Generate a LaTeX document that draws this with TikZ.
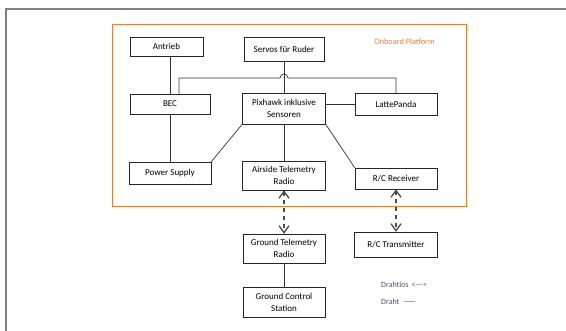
\documentclass[tikz,border=0pt]{standalone}
\usepackage{fontspec}
\setmainfont{Carlito}
\usepackage{xcolor}
\usetikzlibrary{arrows.meta}
\definecolor{platorange}{RGB}{237,125,49}
\definecolor{legendgray}{RGB}{68,84,106}

\begin{document}
\begin{tikzpicture}[x=1pt,y=-1pt]
  \tikzset{block/.style = {draw=black!85,minimum width=82pt,align=center,inner sep=1pt,font=\fontsize{9}{12}\selectfont}}
  \tikzset{wire/.style = {draw=black!80,line width=0.7pt}}
  \tikzset{wless/.style = {draw=black!70,line width=1.3pt,dash pattern=on 4pt off 4pt,{Straight Barb[length=7pt,width=10pt]}-{Straight Barb[length=7pt,width=10pt]}}}
  \tikzset{legend/.style = {anchor=west,text=legendgray,font=\fontsize{8}{9}\selectfont,inner sep=0pt}}
  \useasboundingbox (0,0) rectangle (566,331);

	% frame and platform
	\draw[gray,line width=1.5pt] (6,331) -- (6,9) -- (566,9);
	\draw[platorange,line width=0.8pt] (112,24) rectangle (466,206);
	\node[text=platorange,font=\fontsize{8.3}{10}\selectfont] (OP) at (404.5,42) {Onboard Platform};

	\node[block,minimum width=73pt,minimum height=19pt] (Antrieb) at (166.5,46.5) {Antrieb};
	\node[block,minimum width=80pt,minimum height=24pt] (Servos) at (284,49) {Servos für Ruder};
	
	\node[block,minimum width=80pt,minimum height=20pt] (BEC) at (170,104) {BEC};
	\node[block,minimum width=83pt,minimum height=31pt] (Pix) at (284,108.5) {Pixhawk inklusive\\Sensoren};
	\node[block,minimum height=22pt] (LP) at (396,104) {LattePanda};
	
	\node[block,minimum height=22pt] (PS) at (170,173) {Power Supply};
	\node[block,minimum width=83pt,minimum height=29pt] (ATR) at (284,175.5) {Airside Telemetry\\Radio};
	\node[block,minimum height=21pt] (RCR) at (396,178.5) {R/C Receiver};
	
	\node[block,minimum height=29pt] (GTR) at (284,248.5) {Ground Telemetry\\Radio};
	\node[block,minimum width=83pt,minimum height=25pt] (RCT) at (396,244.5) {R/C Transmitter};
	\node[block,minimum height=30pt] (GCS) at (284,302) {Ground Control\\Station};
	
	\node[legend] (LWL) at (381,285) {Drahtlos \,<—>};
	\node[legend] (LW) at (381,302) {Draht \ —\kern-0.2em—};

	\coordinate (hop) at (284,78);
	
    \draw[wire] (BEC.north) -- (BEC.north |- Antrieb.south);
    \draw[wire] (LP.west) -- (LP.west -| Pix.east);
    \draw[wire] ([xshift=9pt]BEC.north) |- ([xshift=-4pt]hop) arc[start angle=180,end angle=0,radius=4pt] -| (LP.north);
	
    \foreach \from/\to in {BEC/PS, Servos/Pix, Pix.south west/PS.north east, Pix/ATR, Pix.south east/RCR.north west, GTR/GCS}
    \path[wire](\from) edge (\to);
    
    \foreach \from/\to in {ATR/GTR, RCR/RCT}
    \path[wless](\from) edge (\to);

\end{tikzpicture}
\end{document}
